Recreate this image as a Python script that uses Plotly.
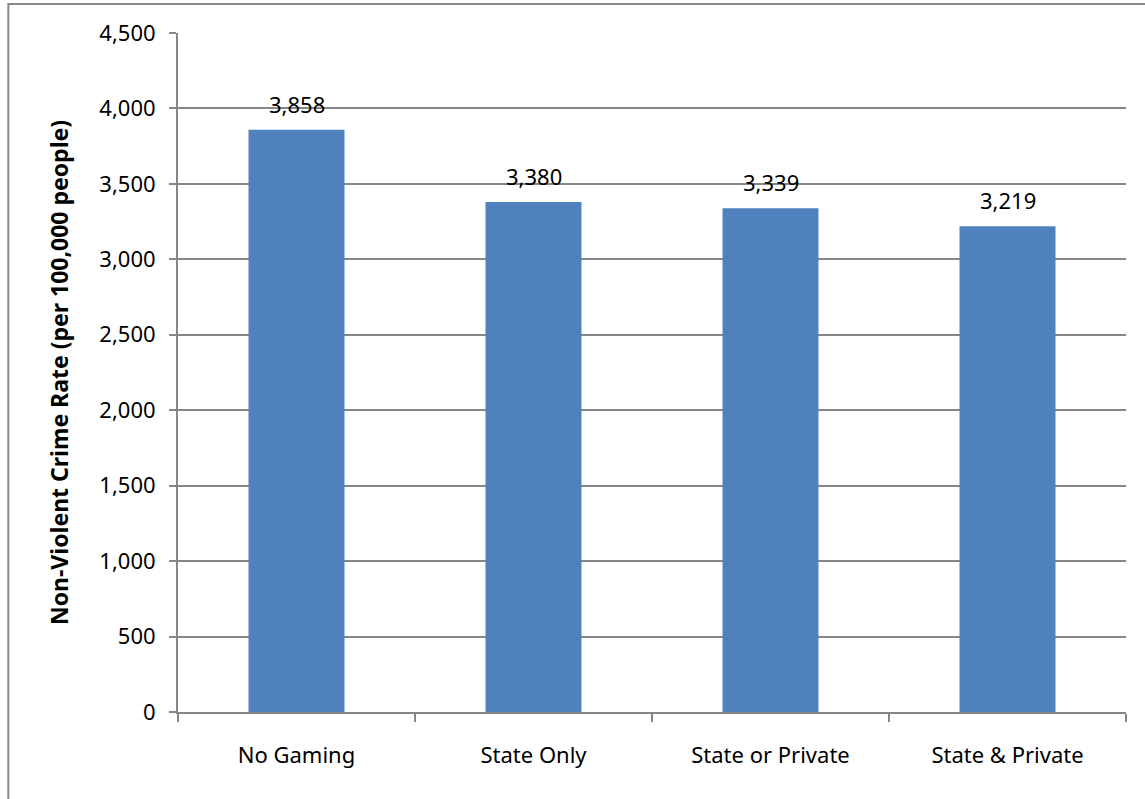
import plotly.graph_objects as go

categories = ["No Gaming", "State Only", "State or Private", "State & Private"]
values = [3858, 3380, 3339, 3219]
tick_vals = [0, 500, 1000, 1500, 2000, 2500, 3000, 3500, 4000, 4500]

FONT = "Noto Sans"
GRID = "#868686"

fig = go.Figure()
fig.add_trace(go.Bar(
    x=categories, y=values,
    marker=dict(color="#4F81BD", line=dict(width=0)),
    width=0.405,
    hoverinfo="x+y",
))

for c, v in zip(categories, values):
    fig.add_annotation(
        x=c, y=v, text=f"{v:,}", showarrow=False,
        yanchor="bottom", yshift=9,
        font=dict(family=FONT, size=22, color="#000000"),
    )

fig.add_shape(
    type="rect", xref="paper", yref="paper",
    x0=-0.179, x1=1.2, y0=-0.3, y1=1.0426,
    line=dict(color="#888888", width=2), fillcolor="rgba(0,0,0,0)",
    layer="below",
)

fig.update_layout(
    width=1145, height=799,
    margin=dict(l=178, r=19, t=33, b=87),
    paper_bgcolor="white", plot_bgcolor="white",
    showlegend=False,
    font=dict(family=FONT, size=22, color="#000000"),
    xaxis=dict(
        showline=True, linecolor=GRID, linewidth=2,
        ticks="outside", tickson="boundaries", ticklen=8, tickcolor=GRID, tickwidth=2,
        showgrid=False, tickfont=dict(family=FONT, size=22),
        ticklabelstandoff=23,
    ),
    yaxis=dict(
        range=[0, 4500], tickvals=tick_vals,
        tickformat=",d",
        showline=True, linecolor=GRID, linewidth=2,
        ticks="outside", ticklen=7, tickcolor=GRID, tickwidth=2,
        showgrid=True, gridcolor=GRID, gridwidth=1.5,
        zeroline=False,
        tickfont=dict(family=FONT, size=22),
        ticklabelstandoff=9,
        title=dict(text="<b>Non-Violent Crime Rate (per 100,000 people)</b>",
                   font=dict(family=FONT, size=23), standoff=24),
    ),
)

fig.write_html("out.html")
